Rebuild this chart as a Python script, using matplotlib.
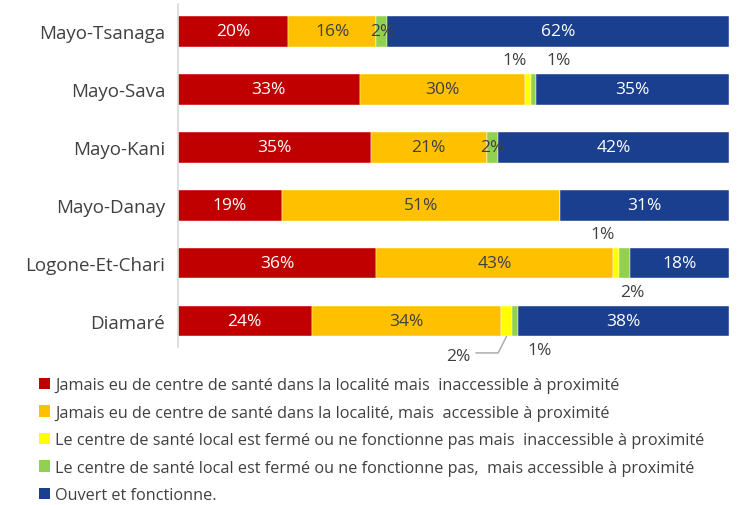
import matplotlib.pyplot as plt
from matplotlib.patches import Patch

plt.rcParams['font.family'] = ['Open Sans', 'DejaVu Sans']

regions = ['Mayo-Tsanaga', 'Mayo-Sava', 'Mayo-Kani', 'Mayo-Danay',
           'Logone-Et-Chari', 'Diamaré']
series_names = [
    'Jamais eu de centre de santé dans la localité mais  inaccessible à proximité',
    'Jamais eu de centre de santé dans la localité, mais  accessible à proximité',
    'Le centre de santé local est fermé ou ne fonctionne pas mais  inaccessible à proximité',
    'Le centre de santé local est fermé ou ne fonctionne pas,  mais accessible à proximité',
    'Ouvert et fonctionne.',
]
jamais_inacc = [20, 33, 35, 19, 36, 24]
jamais_acc = [16, 30, 21, 51, 43, 34]
ferme_inacc = [0, 1, 0, 0, 1, 2]
ferme_acc = [2, 1, 2, 0, 2, 1]
ouvert = [62, 35, 42, 31, 18, 38]

series = [jamais_inacc, jamais_acc, ferme_inacc, ferme_acc, ouvert]
colors = ['#C00000', '#FFC000', '#FFFF00', '#92D050', '#1B3F8F']
text_colors = ['white', '#404040', '#404040', '#404040', 'white']

# rounded shares do not always add up to 100, bars are stretched to full width
totals = [sum(v) for v in zip(*series)]
shares = [[v / t * 100 for v, t in zip(vals, totals)] for vals in series]

fig = plt.figure(figsize=(7.38, 5.06), dpi=100)
ax = fig.add_axes([0.241, 0.312, 0.747, 0.678])

ypos = list(range(len(regions) - 1, -1, -1))
left = [0] * len(regions)
bars = []
for vals, col in zip(shares, colors):
    b = ax.barh(ypos, vals, left=left, height=0.53, color=col,
                edgecolor='white', linewidth=0.3)
    bars.append(b)
    left = [l + v for l, v in zip(left, vals)]

# labels inside the segments
for k, (vals, b) in enumerate(zip(series, bars)):
    for i, (v, rect) in enumerate(zip(vals, b)):
        if v == 0:
            continue
        if v < 3 and not (k == 3 and i in (0, 2)):
            continue
        cx = rect.get_x() + rect.get_width() / 2
        cy = rect.get_y() + rect.get_height() / 2
        ax.text(cx, cy, f'{v}%', ha='center', va='center', fontsize=12.5,
                color=text_colors[k])

# small segments labelled outside the bars
def small_label(k, i, dy, dx=0.0):
    rect = bars[k][i]
    cx = rect.get_x() + rect.get_width() / 2 + dx
    ax.text(cx, ypos[i] + dy, f'{series[k][i]}%', ha='center', va='center',
            fontsize=12.5, color='#404040')

small_label(2, 1, 0.5, -2.5)
small_label(3, 1, 0.5, 4.5)
small_label(2, 4, 0.5, -2.5)
small_label(3, 4, -0.5, 1.5)
small_label(3, 5, -0.5, 4.5)

# leader line for Diamaré yellow segment
r = bars[2][5]
x0 = r.get_x() + r.get_width() / 2
ax.plot([x0, x0 - 1.5, x0 - 5.5], [ypos[5] - 0.27, ypos[5] - 0.55, ypos[5] - 0.55],
        color='#A6A6A6', linewidth=1, clip_on=False)
ax.text(x0 - 6.5, ypos[5] - 0.6, f'{series[2][5]}%', ha='right', va='center',
        fontsize=12.5, color='#404040')

ax.set_xlim(0, 100)
ax.set_ylim(-0.45, 5.47)
ax.set_yticks(ypos)
ax.set_yticklabels(regions, fontsize=13.5, color='#404040')
ax.tick_params(axis='y', length=0, pad=9)
ax.set_xticks([])
for s in ['top', 'right', 'bottom']:
    ax.spines[s].set_visible(False)
ax.spines['left'].set_color('#D9D9D9')
ax.spines['left'].set_linewidth(1.2)

handles = [Patch(facecolor=c, label=n) for c, n in zip(colors, series_names)]
fig.legend(handles=handles, loc='upper left', bbox_to_anchor=(0.053, 0.252),
           frameon=False, fontsize=11.7, handlelength=0.7, handleheight=0.7,
           handletextpad=0.3, labelspacing=0.7, labelcolor='#404040',
           borderaxespad=0, borderpad=0)

fig.savefig('out.png', dpi=100)
